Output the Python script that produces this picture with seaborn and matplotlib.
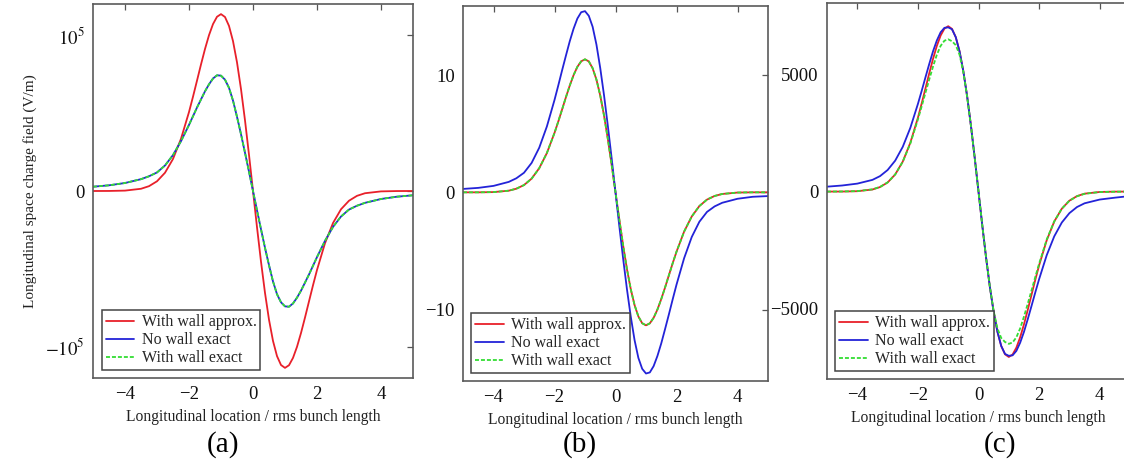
import matplotlib
matplotlib.use("Agg")
import matplotlib.pyplot as plt
import seaborn as sns
import pandas as pd
from matplotlib.ticker import FixedLocator, FixedFormatter

# ---------------- data ----------------
x = [-5, -4.5, -4, -3.5, -3.25, -3, -2.75, -2.5, -2.25, -2, -1.875, -1.75, -1.625,
     -1.5, -1.375, -1.25, -1.125, -1, -0.875, -0.75, -0.625, -0.5, -0.375, -0.25,
     -0.125, 0, 0.125, 0.25, 0.375, 0.5, 0.625, 0.75, 0.875, 1, 1.125, 1.25, 1.375,
     1.5, 1.625, 1.75, 1.875, 2, 2.25, 2.5, 2.75, 3, 3.25, 3.5, 4, 4.5, 5]

# panel (a)
red_a = [0, 30, 250, 1430, 3100, 6240, 11720, 20560, 33510, 50660, 60510, 70820, 81210,
         91130, 99980, 107100, 111810, 113500, 111660, 105940, 96200, 82570, 65410, 45340,
         23210, 0, -23210, -45340, -65410, -82570, -96200, -105940, -111660, -113500,
         -111810, -107100, -99980, -91130, -81210, -70820, -60510, -50660, -33510, -20560,
         -11720, -6240, -3100, -1430, -250, -30, 0]
blue_a = [2750, 3650, 5130, 7590, 9450, 11900, 16370, 23060, 31990, 42410, 47990, 53570,
          58780, 63980, 68450, 72170, 74250, 74030, 71420, 66220, 58030, 47620, 36460,
          24550, 12420, 0, -12420, -24550, -36460, -47620, -58030, -66220, -71420, -74030,
          -74250, -72170, -68450, -63980, -58780, -53570, -47990, -42410, -31990, -23060,
          -16370, -11900, -9450, -7590, -5130, -3650, -2750]
green_a = [2750, 3650, 5130, 7590, 9450, 11900, 16370, 23060, 31990, 42410, 47990, 53570,
           58780, 63980, 68450, 72170, 74250, 74030, 71420, 66220, 58030, 47620, 36460,
           24550, 12420, 0, -12420, -24550, -36460, -47620, -58030, -66220, -71420, -74030,
           -74250, -72170, -68450, -63980, -58780, -53570, -47990, -42410, -31990, -23060,
           -16370, -11900, -9450, -7590, -5130, -3650, -2750]

# panel (b)
red_b = [0.0, 0.0, 0.02, 0.14, 0.31, 0.62, 1.17, 2.06, 3.35, 5.07, 6.05, 7.08, 8.12,
         9.11, 10.00, 10.71, 11.18, 11.35, 11.17, 10.59, 9.62, 8.26, 6.54, 4.53, 2.32, 0,
         -2.32, -4.53, -6.54, -8.26, -9.62, -10.59, -11.17, -11.35, -11.18, -10.71, -10.00,
         -9.11, -8.12, -7.08, -6.05, -5.07, -3.35, -2.06, -1.17, -0.62, -0.31, -0.14,
         -0.02, 0.0, 0.0]
blue_b = [0.29, 0.38, 0.55, 0.89, 1.20, 1.67, 2.51, 3.81, 5.62, 7.88, 9.13, 10.42, 11.67,
          12.89, 13.96, 14.83, 15.37, 15.46, 15.06, 14.13, 12.61, 10.60, 8.26, 5.65, 2.88, 0,
          -2.88, -5.65, -8.26, -10.60, -12.61, -14.13, -15.06, -15.46, -15.37, -14.83,
          -13.96, -12.89, -11.67, -10.42, -9.13, -7.88, -5.62, -3.81, -2.51, -1.67, -1.20,
          -0.89, -0.55, -0.38, -0.32]
green_b = [0.0, 0.0, 0.02, 0.14, 0.31, 0.62, 1.17, 2.06, 3.35, 5.07, 6.05, 7.08, 8.12,
           9.11, 10.00, 10.71, 11.18, 11.35, 11.17, 10.59, 9.62, 8.26, 6.54, 4.53, 2.32, 0,
           -2.32, -4.53, -6.54, -8.26, -9.62, -10.59, -11.17, -11.35, -11.18, -10.71, -10.00,
           -9.11, -8.12, -7.08, -6.05, -5.07, -3.35, -2.06, -1.17, -0.62, -0.31, -0.14,
           -0.02, 0.0, 0.0]

# panel (c)
red_c = [0, 2, 16, 89, 193, 388, 729, 1279, 2084, 3151, 3764, 4405, 5051, 5668, 6219,
         6662, 6955, 7060, 6946, 6590, 5984, 5136, 4069, 2820, 1444, 0, -1444, -2820,
         -4069, -5136, -5984, -6590, -6946, -7060, -6955, -6662, -6219, -5668, -5051,
         -4405, -3764, -3151, -2084, -1279, -729, -388, -193, -89, -16, -2, 0]
blue_c = [210, 260, 340, 500, 660, 920, 1320, 1910, 2720, 3740, 4300, 4880, 5450, 5990,
          6450, 6800, 6990, 7010, 6930, 6590, 5984, 5136, 4069, 2820, 1444, 0, -1444,
          -2820, -4069, -5136, -5984, -6590, -6930, -7010, -6990, -6800, -6450, -5990,
          -5450, -4880, -4300, -3740, -2720, -1910, -1320, -920, -660, -500, -340, -260, -190]
green_c = [0, 5, 20, 95, 200, 390, 730, 1270, 2050, 3080, 3640, 4220, 4790, 5340, 5840,
           6220, 6440, 6500, 6420, 6250, 5840, 5100, 4050, 2810, 1440, 0, -1440, -2810,
           -4050, -5100, -5840, -6250, -6420, -6500, -6440, -6220, -5840, -5340, -4790,
           -4220, -3640, -3080, -2050, -1270, -730, -390, -200, -95, -20, -5, 0]

series_labels = ["With wall approx.", "No wall exact", "With wall exact"]
panel_labels = ["(a)", "(b)", "(c)"]
xticks = [-4, -2, 0, 2, 4]
yticks_a = [-1e5, 0, 1e5]
yticklabels_a = [r"$-10^5$", "0", r"$10^5$"]
yticks_b = [-10, 0, 10]
yticks_c = [-5000, 0, 5000]
xlabel = "Longitudinal location / rms bunch length"
ylabel = "Longitudinal space charge field (V/m)"

# ---------------- style ----------------
sns.set_style("white")
plt.rcParams["font.family"] = ["Liberation Serif", "DejaVu Serif"]
plt.rcParams["mathtext.fontset"] = "stix"

W, H = 1124, 471
fig = plt.figure(figsize=(W / 100, H / 100), dpi=100)

def frac(l, t, r, b):
    return [l / W, 1 - b / H, (r - l) / W, (b - t) / H]

boxes = [frac(93, 4, 413, 378), frac(463, 6, 768, 381), frac(827, 3, 1130, 379)]
ylims = [(-1.2e5, 1.2e5), (-16.1, 15.9), (-8000, 8050)]
data = [(red_a, blue_a, green_a), (red_b, blue_b, green_b), (red_c, blue_c, green_c)]
yticks = [yticks_a, yticks_b, yticks_c]
yticklabels = [yticklabels_a, ["\u221210", "0", "10"], ["\u22125000", "0", "5000"]]
label_pos = [(223, 445), (580, 445), (1000, 445)]

red = "#e8202a"
blue = "#2323d8"
green = "#33dd33"

for i in range(3):
    ax = fig.add_axes(boxes[i])
    r, b, g = data[i]
    df = pd.DataFrame({"x": x, "red": r, "blue": b, "green": g})
    sns.lineplot(data=df, x="x", y="red", ax=ax, color=red, linewidth=1.3,
                 label=series_labels[0])
    sns.lineplot(data=df, x="x", y="blue", ax=ax, color=blue, linewidth=1.3,
                 label=series_labels[1])
    sns.lineplot(data=df, x="x", y="green", ax=ax, color=green, linewidth=1.3,
                 linestyle=(0, (2.2, 1.1)), label=series_labels[2])
    ax.set_xlim(-5, 5)
    ax.set_ylim(*ylims[i])
    ax.xaxis.set_major_locator(FixedLocator(xticks))
    ax.yaxis.set_major_locator(FixedLocator(yticks[i]))
    ax.yaxis.set_major_formatter(FixedFormatter(yticklabels[i]))
    ax.tick_params(direction="in", top=True, right=True, length=4, width=0.9,
                   color="#555555", labelsize=13.5, pad=6, labelcolor="#111111")
    for s in ax.spines.values():
        s.set_color("#5a5a5a")
        s.set_linewidth(1.2)
    ax.set_xlabel(xlabel, fontsize=11.2, color="#222222", labelpad=4)
    if i == 0:
        ax.set_ylabel(ylabel, fontsize=11, color="#222222", labelpad=6)
    else:
        ax.set_ylabel("")
    leg = ax.legend(loc="lower left", bbox_to_anchor=(0.027, 0.021), borderaxespad=0,
                    frameon=True, fancybox=False, framealpha=1, edgecolor="#444444",
                    fontsize=11.5, handlelength=1.8, handletextpad=0.45,
                    labelspacing=0.12, borderpad=0.25)
    leg.get_frame().set_linewidth(1.1)
    fig.text(label_pos[i][0] / W, 1 - label_pos[i][1] / H, panel_labels[i],
             fontsize=21, ha="center", va="center", color="black")

fig.savefig("out.png", dpi=100)
